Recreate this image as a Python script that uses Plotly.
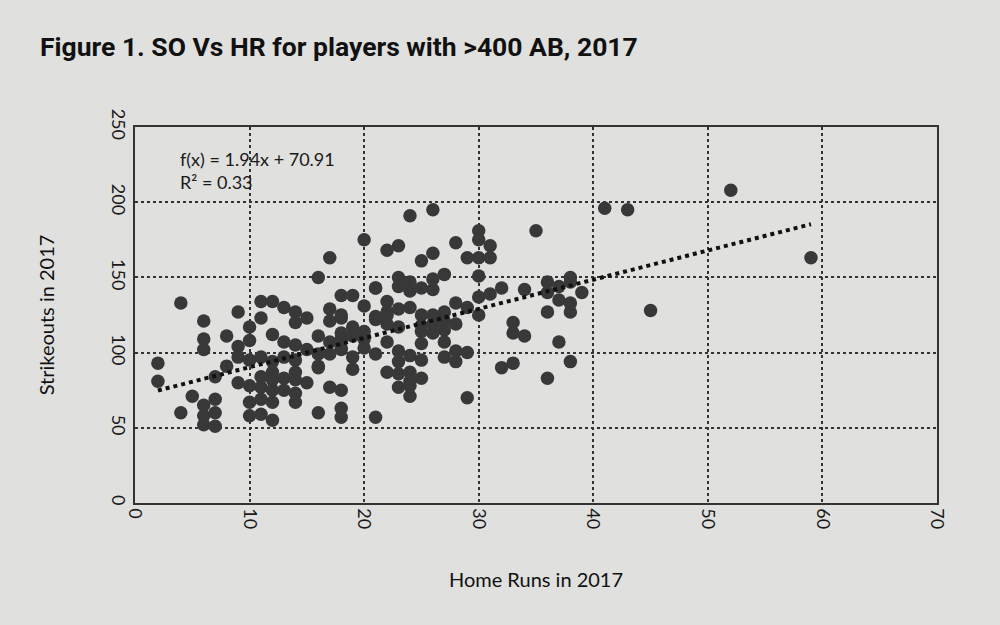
import plotly.graph_objects as go

# home runs (x) and strikeouts (y)
hr = [2, 2, 4, 4, 5, 6, 6, 6, 6, 6, 6, 7, 7, 7, 7, 8, 8, 9, 9, 9, 9, 10, 10, 10, 10, 10, 10,
      11, 12, 13, 14, 15, 14, 11, 12, 13, 11, 12, 13, 14, 11, 12, 13, 14, 15, 11, 12, 13, 14, 11, 12, 14,
      11, 12, 14, 15, 14, 12,
      16, 17, 17, 17, 18, 18, 19, 16, 17, 18, 19, 18, 16, 17, 18, 16, 18, 18, 17, 18, 16, 16, 18, 19, 19, 18, 19,
      20, 20, 21, 22, 22, 23, 21, 22, 23, 20, 22, 21, 23, 23, 22, 23, 23, 21, 22, 23, 20, 20, 21, 22,
      21, 23, 23, 24, 24, 25, 26, 26,
      24, 26, 25, 26, 27, 28, 24, 25, 26, 27, 28, 29, 25, 26, 27, 26, 27, 28, 24, 25, 27, 28, 28, 29,
      24, 25, 24, 24, 25, 24, 29, 25, 27,
      30, 30, 31, 29, 30, 31, 30, 32, 31, 30, 34, 30, 33, 33, 34, 32, 33,
      35, 41, 43, 36, 37, 38, 38, 36, 37, 38, 39, 38, 36, 37, 38, 36, 45, 52, 59]
so = [93, 81, 133, 60, 71, 121, 109, 102, 65, 58, 52, 84, 69, 60, 51, 111, 91, 127, 104, 97, 80, 117, 108, 95, 78, 67, 58,
      134, 134, 130, 127, 123, 120, 123, 112, 107, 97, 94, 97, 95, 84, 87, 83, 87, 80, 77, 75, 75, 73, 69, 67, 67,
      59, 55, 105, 102, 82, 82,
      150, 163, 129, 121, 123, 138, 138, 111, 107, 113, 111, 102, 91, 77, 75, 60, 63, 57, 99, 103, 99, 90, 109, 97, 89, 125, 117,
      175, 131, 122, 134, 127, 129, 124, 119, 117, 109, 107, 99, 101, 94, 87, 86, 77, 57, 168, 171, 114, 103, 143, 125,
      143, 150, 144, 147, 141, 143, 142, 149,
      191, 195, 161, 166, 152, 173, 130, 125, 125, 127, 133, 130, 118, 113, 115, 119, 121, 119, 98, 95, 97, 101, 94, 100,
      87, 83, 81, 71, 106, 78, 70, 114, 107,
      181, 175, 171, 163, 163, 163, 151, 143, 139, 137, 142, 125, 120, 113, 111, 90, 93,
      181, 196, 195, 147, 144, 150, 147, 140, 135, 133, 140, 127, 127, 107, 94, 83, 128, 208, 163]

slope = 1.94
intercept = 70.91
r2 = 0.33

fit_x = [min(hr), max(hr)]
fit_y = [slope * v + intercept for v in fit_x]

bg = "#e0e0de"
label_font = "Lato, Open Sans, sans-serif"

fig = go.Figure()

fig.add_trace(go.Scatter(x=hr, y=so, mode="markers",
                         marker=dict(size=13.5, color="#383838", line=dict(width=0)),
                         showlegend=False))

fig.add_trace(go.Scatter(x=fit_x, y=fit_y, mode="lines",
                         line=dict(color="#111111", width=4, dash="dot"),
                         showlegend=False))

fig.add_annotation(x=0.053, y=0.95, xref="paper", yref="paper",
                   text=f"f(x) = {slope}x + {intercept}<br>R² = {r2}", showarrow=False,
                   align="left", xanchor="left", yanchor="top",
                   font=dict(family=label_font, size=18, color="#1a1a1a"))

fig.update_layout(
    width=1000, height=625,
    paper_bgcolor=bg, plot_bgcolor=bg,
    margin=dict(l=135, r=63, t=127, b=122),
    title=dict(text="<b>Figure 1. SO Vs HR for players with >400 AB, 2017</b>",
               x=0.04, xanchor="left", y=0.925, yanchor="middle",
               font=dict(family="Roboto, sans-serif", size=26.5, color="#111111")),
)

fig.update_xaxes(range=[0, 70], dtick=10, tickangle=90,
                 showgrid=True, gridcolor="#333333", griddash="dot", gridwidth=1.5,
                 showline=True, linecolor="#333333", linewidth=1.5, mirror=True,
                 zeroline=False, ticks="",
                 tickfont=dict(family=label_font, size=18, color="#1a1a1a"),
                 title=dict(text="Home Runs in 2017", standoff=45,
                            font=dict(family=label_font, size=20, color="#111111")))

fig.update_yaxes(range=[0, 250], dtick=50, tickangle=90,
                 showgrid=True, gridcolor="#333333", griddash="dot", gridwidth=1.5,
                 showline=True, linecolor="#333333", linewidth=1.5, mirror=True,
                 zeroline=False, ticks="",
                 tickfont=dict(family=label_font, size=18, color="#1a1a1a"),
                 title=dict(text="Strikeouts in 2017", standoff=48,
                            font=dict(family=label_font, size=20, color="#111111")))

fig.write_html("out.html", config={"displayModeBar": False},
               post_script="document.body.style.margin='0';")
